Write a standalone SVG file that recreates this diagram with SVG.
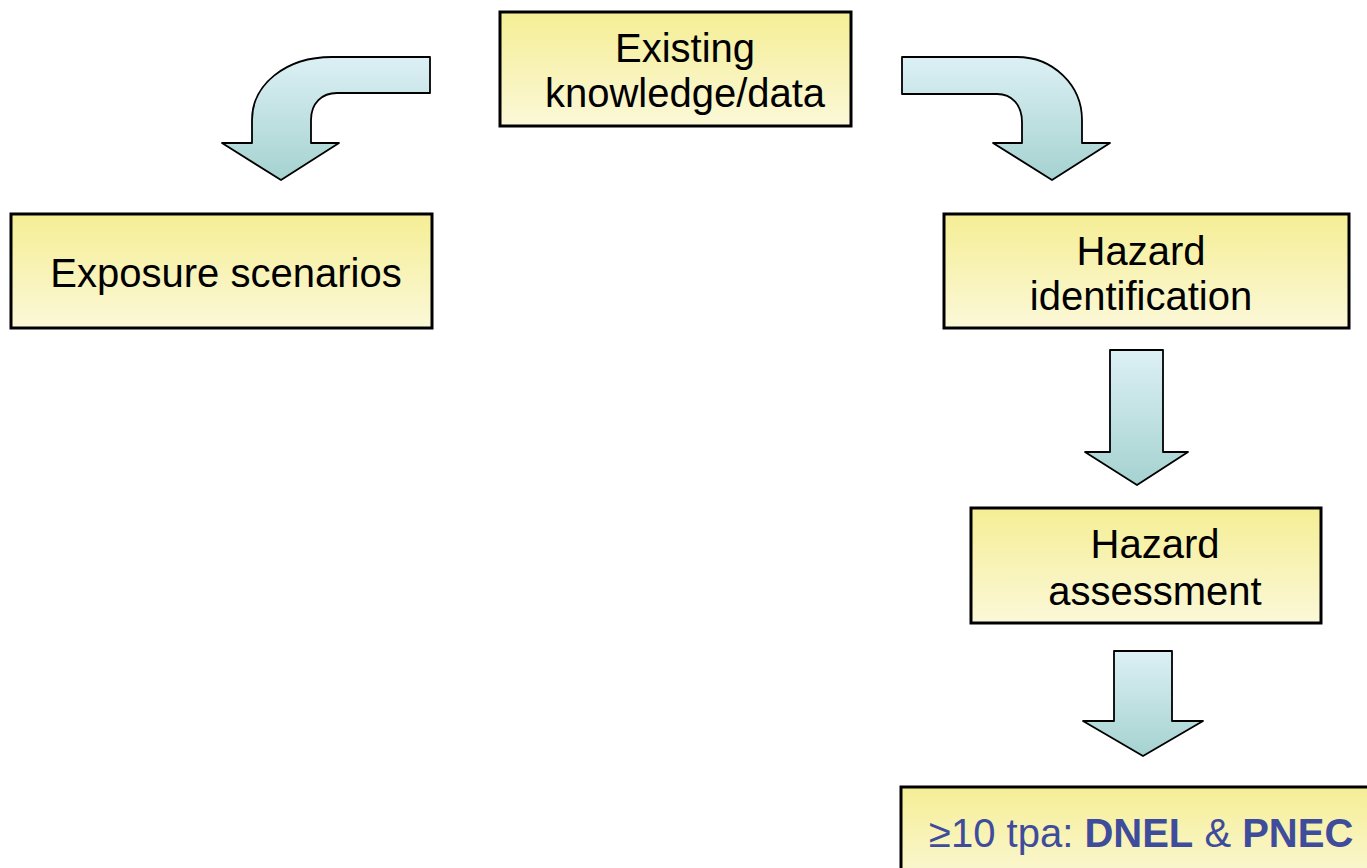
<svg xmlns="http://www.w3.org/2000/svg" width="1367" height="868" viewBox="0 0 1367 868">
<defs>
<linearGradient id="boxg" x1="0" y1="0" x2="0" y2="1">
<stop offset="0" stop-color="#f5ee95"/>
<stop offset="1" stop-color="#fbf8d8"/>
</linearGradient>
<linearGradient id="arrg" x1="0" y1="0" x2="0" y2="1">
<stop offset="0" stop-color="#dcf0f5"/>
<stop offset="1" stop-color="#a5d2d0"/>
</linearGradient>
</defs>
<style>
.box{fill:url(#boxg);stroke:#000;stroke-width:3}
.arr{fill:url(#arrg);stroke:#000;stroke-width:1.8;stroke-linejoin:round}
.t{font-family:"Liberation Sans",Arial,sans-serif;font-size:40px;fill:#000;text-anchor:middle}
.b{font-family:"Liberation Sans",Arial,sans-serif;font-size:40px;fill:#3f4c9c}
</style>
<rect width="1367" height="868" fill="#fff"/>
<g id="connectors">
<path class="arr" d="M430,57 L332,57 C285,57 252,85 252,120 L252,143 L222,143 L281,180 L339,143 L311,143 L311,120 C311,103 322,93 337,93 L430,93 Z"/>
<path class="arr" d="M902,57 L1017,57 C1053,57 1082,85 1082,120 L1082,143 L1110,143 L1052,180 L993,143 L1022,143 L1022,122 C1022,105 1012,94 997,94 L902,94 Z"/>
<path class="arr" d="M1110,350 L1163,350 L1163,452 L1188,452 L1137,485 L1085,452 L1110,452 Z"/>
<path class="arr" d="M1114,651 L1172,651 L1172,721 L1203,721 L1143,756 L1083,721 L1114,721 Z"/>
</g>
<g id="existing">
<rect class="box" x="500" y="12" width="351" height="114"/>
<text class="t" x="685" y="62">Existing</text>
<text class="t" x="685" y="107">knowledge/data</text>
</g>
<g id="exposure">
<rect class="box" x="11" y="214" width="421" height="114"/>
<text class="t" x="226" y="287">Exposure scenarios</text>
</g>
<g id="hazard-identification">
<rect class="box" x="944" y="214" width="405" height="114"/>
<text class="t" x="1141" y="265">Hazard</text>
<text class="t" x="1141" y="310">identification</text>
</g>
<g id="hazard-assessment">
<rect class="box" x="971" y="508" width="350" height="115"/>
<text class="t" x="1155" y="558">Hazard</text>
<text class="t" x="1155" y="605">assessment</text>
</g>
<g id="dnel-pnec">
<rect class="box" x="901" y="787" width="480" height="100"/>
<text class="b" x="929" y="847">≥10 tpa: <tspan font-weight="bold">DNEL</tspan> &amp; <tspan font-weight="bold">PNEC</tspan></text>
</g>
</svg>
